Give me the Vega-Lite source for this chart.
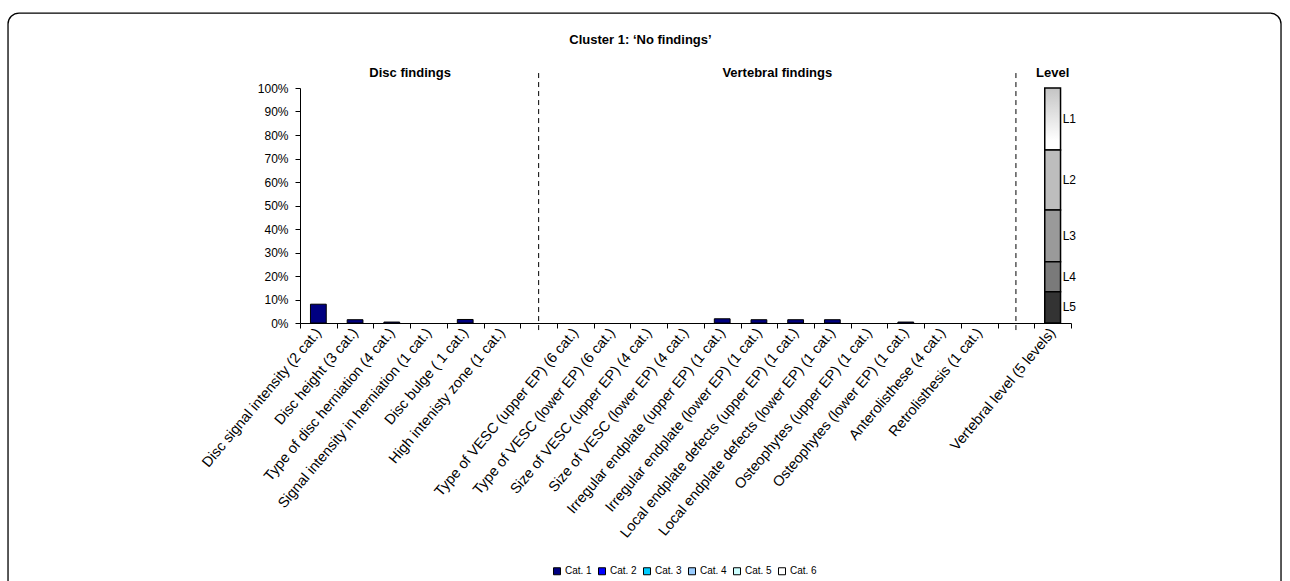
{
  "$schema": "https://vega.github.io/schema/vega-lite/v6.json",
  "autosize": "none",
  "width": 771,
  "height": 235,
  "padding": {"left": 300, "top": 88, "right": 219, "bottom": 258},
  "background": "white",
  "config": {
    "font": "Liberation Sans",
    "view": {"stroke": null},
    "axis": {"labelColor": "black", "domainColor": "black", "tickColor": "black", "grid": false, "title": null},
    "axisY": {"tickCount": 10, "values": [0, 10, 20, 30, 40, 50, 60, 70, 80, 90, 100], "labelOverlap": false, "labelExpr": "datum.value + '%'", "labelFontSize": 12, "tickSize": 5, "labelPadding": 7}
  },
  "title": {"text": "Cluster 1: ‘No findings’", "fontSize": 13, "fontWeight": "bold", "color": "black", "anchor": "middle", "dx": -45, "offset": -35},
  "datasets": {
    "bars": [
      {"Finding": "Disc signal intensity (2 cat.)", "Category": "Cat. 1", "Percent": 8.0},
      {"Finding": "Disc height (3 cat.)", "Category": "Cat. 1", "Percent": 1.4},
      {"Finding": "Type of disc herniation (4 cat.)", "Category": "Cat. 1", "Percent": 0.4},
      {"Finding": "Disc bulge ( 1 cat.)", "Category": "Cat. 1", "Percent": 1.5},
      {"Finding": "Irregular endplate (upper EP) (1 cat.)", "Category": "Cat. 1", "Percent": 1.8},
      {"Finding": "Irregular endplate (lower EP) (1 cat.)", "Category": "Cat. 1", "Percent": 1.4},
      {"Finding": "Local endplate defects (upper EP) (1 cat.)", "Category": "Cat. 1", "Percent": 1.4},
      {"Finding": "Local endplate defects (lower EP) (1 cat.)", "Category": "Cat. 1", "Percent": 1.4},
      {"Finding": "Osteophytes (lower EP) (1 cat.)", "Category": "Cat. 1", "Percent": 0.4}
    ],
    "levels": [
      {"Finding": "Vertebral level (5 levels)", "Level": "L1", "Percent": 26.4},
      {"Finding": "Vertebral level (5 levels)", "Level": "L2", "Percent": 25.5},
      {"Finding": "Vertebral level (5 levels)", "Level": "L3", "Percent": 22.0},
      {"Finding": "Vertebral level (5 levels)", "Level": "L4", "Percent": 12.8},
      {"Finding": "Vertebral level (5 levels)", "Level": "L5", "Percent": 13.3}
    ],
    "dividers": [
      {"Finding": "gap1"},
      {"Finding": "gap2"}
    ],
    "sections": [
      {"Finding": "Signal intensity in herniation (1 cat.)", "Header": "Disc findings"},
      {"Finding": "Local endplate defects (upper EP) (1 cat.)", "Header": "Vertebral findings"}
    ],
    "levelHeader": [
      {"Finding": "Vertebral level (5 levels)", "Header": "Level"}
    ],
    "frame": [
      {"Left": -0.3787, "Right": 1.2724, "Top": 131.9, "Bottom": -115}
    ]
  },
  "layer": [
    {
      "layer": [
        {
          "data": {"name": "bars"},
          "mark": {"type": "bar", "stroke": "black", "strokeWidth": 1, "width": {"band": 0.43}},
          "encoding": {
            "x": {
              "field": "Finding", "type": "nominal",
              "scale": {
                "domain": [
                  "Disc signal intensity (2 cat.)", "Disc height (3 cat.)", "Type of disc herniation (4 cat.)",
                  "Signal intensity in herniation (1 cat.)", "Disc bulge ( 1 cat.)", "High intenisty zone (1 cat.)",
                  "gap1",
                  "Type of VESC (upper EP) (6 cat.)", "Type of VESC (lower EP) (6 cat.)",
                  "Size of VESC (upper EP) (4 cat.)", "Size of VESC (lower EP) (4 cat.)",
                  "Irregular endplate (upper EP) (1 cat.)", "Irregular endplate (lower EP) (1 cat.)",
                  "Local endplate defects (upper EP) (1 cat.)", "Local endplate defects (lower EP) (1 cat.)",
                  "Osteophytes (upper EP) (1 cat.)", "Osteophytes (lower EP) (1 cat.)",
                  "Anterolisthese (4 cat.)", "Retrolisthesis (1 cat.)",
                  "gap2",
                  "Vertebral level (5 levels)"
                ],
                "paddingInner": 0, "paddingOuter": 0
              },
              "axis": {
                "labelAngle": -50, "tickBand": "extent", "labelOverlap": false, "labelLimit": 0,
                "labelExpr": "indexof(datum.label, 'gap') === 0 ? '' : datum.label",
                "labelFontSize": 14.5, "tickSize": 5, "labelPadding": 2
              }
            },
            "y": {
              "field": "Percent", "type": "quantitative",
              "scale": {"domain": [0, 100]}
            },
            "color": {
              "field": "Category", "type": "nominal",
              "scale": {"domain": ["Cat. 1", "Cat. 2", "Cat. 3", "Cat. 4", "Cat. 5", "Cat. 6"], "range": ["#000080", "#0000FF", "#00CCFF", "#99CCFF", "#CCFFFF", "#FFFFFF"]},
              "legend": {
                "orient": "none", "legendX": 252, "legendY": 478, "direction": "horizontal", "title": null,
                "symbolType": "square", "symbolSize": 49, "symbolStrokeColor": "black", "symbolStrokeWidth": 1,
                "labelFontSize": 10, "labelColor": "black", "labelOffset": 3, "columnPadding": 4
              }
            }
          }
        },
        {
          "data": {"name": "levels"},
          "mark": {"type": "bar", "stroke": "black", "strokeWidth": 1.5, "width": {"band": 0.43}},
          "encoding": {
            "x": {"field": "Finding", "type": "nominal"},
            "y": {"field": "Percent", "type": "quantitative", "stack": "zero"},
            "order": {"field": "Level", "sort": "descending"},
            "fill": {
              "field": "Level", "type": "nominal",
              "scale": {"domain": ["L1", "L2", "L3", "L4", "L5"], "range": ["#e8e8e8", "#bdbdbd", "#9a9a9a", "#7a7a7a", "#333333"]},
              "legend": null,
              "condition": {"test": "datum.Level === 'L1'", "value": {"gradient": "linear", "x1": 0, "y1": 0, "x2": 0, "y2": 1, "stops": [{"offset": 0, "color": "#c4c4c4"}, {"offset": 0.85, "color": "#ffffff"}, {"offset": 1, "color": "#ffffff"}]}}
            }
          }
        },
        {
          "data": {"name": "levels"},
          "mark": {"type": "text", "align": "left", "baseline": "middle", "dx": 10, "fontSize": 12, "color": "black"},
          "encoding": {
            "x": {"field": "Finding", "type": "nominal"},
            "y": {"field": "Percent", "type": "quantitative", "stack": "zero", "bandPosition": 0.5},
            "order": {"field": "Level", "sort": "descending"},
            "text": {"field": "Level"}
          }
        },
        {
          "data": {"name": "dividers"},
          "mark": {"type": "rule", "color": "black", "strokeWidth": 1, "strokeDash": [5, 4]},
          "encoding": {
            "x": {"field": "Finding", "type": "nominal"},
            "y": {"datum": -3},
            "y2": {"datum": 108}
          }
        },
        {
          "data": {"name": "sections"},
          "mark": {"type": "text", "align": "center", "baseline": "middle", "fontSize": 13, "fontWeight": "bold", "color": "black"},
          "encoding": {
            "x": {"field": "Finding", "type": "nominal", "bandPosition": 0},
            "y": {"datum": 106.4},
            "text": {"field": "Header"}
          }
        },
        {
          "data": {"name": "levelHeader"},
          "mark": {"type": "text", "align": "center", "baseline": "middle", "fontSize": 13, "fontWeight": "bold", "color": "black"},
          "encoding": {
            "x": {"field": "Finding", "type": "nominal", "bandPosition": 0.5},
            "y": {"datum": 106.4},
            "text": {"field": "Header"}
          }
        }
      ]
    },
    {
      "data": {"name": "frame"},
      "mark": {"type": "rect", "fill": null, "stroke": "black", "strokeWidth": 1.3, "cornerRadius": 11},
      "encoding": {
        "x": {"field": "Left", "type": "quantitative", "scale": {"domain": [0, 1]}, "axis": null},
        "x2": {"field": "Right"},
        "y": {"field": "Top", "type": "quantitative"},
        "y2": {"field": "Bottom"}
      }
    }
  ],
  "resolve": {"scale": {"x": "independent"}, "axis": {"x": "independent"}}
}
